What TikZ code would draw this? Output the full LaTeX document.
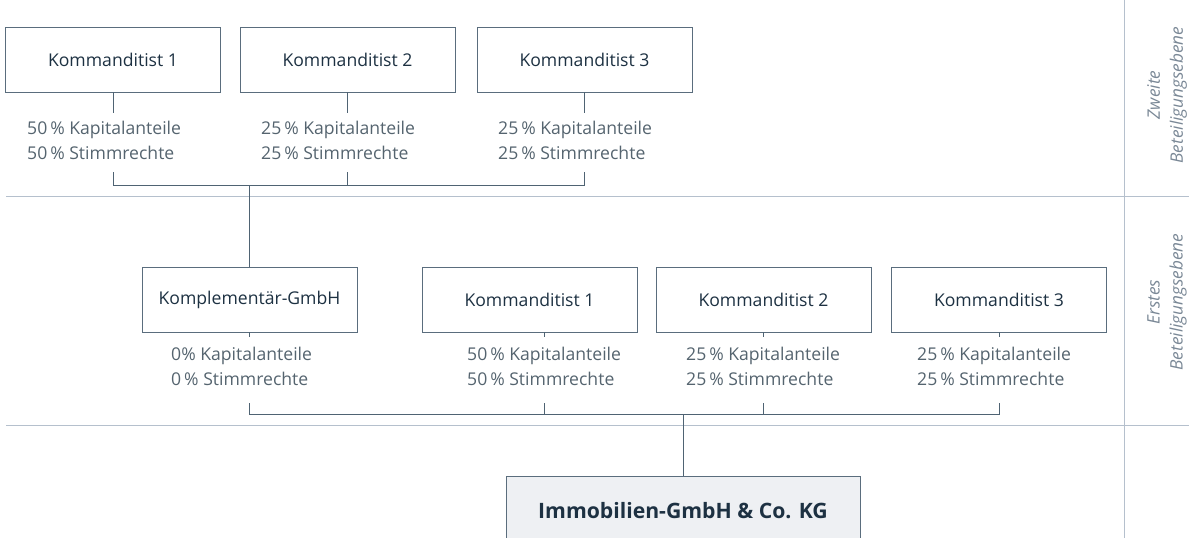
\documentclass[tikz,border=0pt]{standalone}
\usepackage{fontspec}
\setmainfont{Open Sans}
\definecolor{boxline}{HTML}{5A6D7D}
\definecolor{boxtext}{HTML}{1D3142}
\definecolor{pcttext}{HTML}{55646F}
\definecolor{sepline}{HTML}{B5C0CD}
\definecolor{conline}{HTML}{4F6373}
\definecolor{sidetext}{HTML}{7A8896}
\definecolor{mainfill}{HTML}{EEF0F3}
\tikzset{
  entity/.style={draw=boxline, line width=0.9pt, minimum width=215pt, minimum height=65pt,
    inner sep=0pt, text=boxtext, font=\fontsize{17.6}{20}\selectfont},
  mainbox/.style={draw=boxline, line width=0.9pt, fill=mainfill, minimum width=354pt, minimum height=70pt,
    inner sep=0pt, text=boxtext, font=\fontsize{21.2}{24}\selectfont\bfseries},
  share/.style={anchor=west, align=left, inner sep=0pt, text=pcttext, font=\fontsize{17.6}{25}\selectfont},
  conn/.style={draw=conline, line width=0.9pt},
  sep/.style={draw=sepline, line width=0.8pt},
  side/.style={rotate=90, align=center, inner sep=0pt, text=sidetext, font=\fontsize{17.2}{23}\selectfont\itshape}
}
\begin{document}
\begin{tikzpicture}[x=1pt,y=-1pt]
\useasboundingbox (0,0) rectangle (1189,538);
\begin{scope}
\clip (0,0) rectangle (1189,538);
% separators
\coordinate (s1a) at (6,196.5); \coordinate (s1b) at (1189,196.5);
\coordinate (s2a) at (6,425); \coordinate (s2b) at (1189,425);
\coordinate (vsa) at (1124.5,0); \coordinate (vsb) at (1124.5,538);
\draw[sep] (s1a) -- (s1b);
\draw[sep] (s2a) -- (s2b);
\draw[sep] (vsa) -- (vsb);

% side labels
\node[side] (lz) at (1167,95) {Zweite\\Beteiligungsebene};
\node[side] (le) at (1167,302) {Erstes\\Beteiligungsebene};

% top level
\node[entity] (t1) at (113,59.5) {Kommanditist 1};
\node[entity] (t2) at (347.5,59.5) {Kommanditist 2};
\node[entity] (t3) at (584.5,59.5) {Kommanditist 3};
\node[share] (ts1) at (27,140.5) {50\,\% Kapitalanteile\\50\,\% Stimmrechte};
\node[share] (ts2) at (261,140.5) {25\,\% Kapitalanteile\\25\,\% Stimmrechte};
\node[share] (ts3) at (498,140.5) {25\,\% Kapitalanteile\\25\,\% Stimmrechte};
\coordinate (ta1) at (113,113); \coordinate (ta2) at (347.5,113); \coordinate (ta3) at (584.5,113);
\draw[conn] (t1.south) -- (ta1);
\draw[conn] (t2.south) -- (ta2);
\draw[conn] (t3.south) -- (ta3);
\coordinate (tb1) at (113,172); \coordinate (tb2) at (347.5,172); \coordinate (tb3) at (584.5,172);
\coordinate (tc1) at (113,185); \coordinate (tc2) at (347.5,185); \coordinate (tc3) at (584.5,185);
\coordinate (tj) at (249.5,185);
\draw[conn] (tb1) -- (tc1) -- (tc3) -- (tb3);
\draw[conn] (tb2) -- (tc2);

% middle level
\node[entity] (m0) at (249.5,299.5) {Komplementär-GmbH};
\node[entity] (m1) at (529.5,299.5) {Kommanditist 1};
\node[entity] (m2) at (763.5,299.5) {Kommanditist 2};
\node[entity] (m3) at (999,299.5) {Kommanditist 3};
\draw[conn] (tj) -- (m0.north);
\node[share] (ms0) at (171,366.5) {0\% Kapitalanteile\\0\,\% Stimmrechte};
\node[share] (ms1) at (467,366.5) {50\,\% Kapitalanteile\\50\,\% Stimmrechte};
\node[share] (ms2) at (686,366.5) {25\,\% Kapitalanteile\\25\,\% Stimmrechte};
\node[share] (ms3) at (917,366.5) {25\,\% Kapitalanteile\\25\,\% Stimmrechte};
\coordinate (ma0) at (249.5,337); \coordinate (ma1) at (544,337);
\coordinate (ma2) at (763.5,337); \coordinate (ma3) at (999,337);
\draw[conn] (m0.south) -- (ma0);
\draw[conn] (m1.south -| ma1) -- (ma1);
\draw[conn] (m2.south) -- (ma2);
\draw[conn] (m3.south) -- (ma3);
\coordinate (mb0) at (249.5,403); \coordinate (mb1) at (544,403);
\coordinate (mb2) at (763.5,403); \coordinate (mb3) at (999,403);
\coordinate (mc0) at (249.5,414); \coordinate (mc1) at (544,414);
\coordinate (mc2) at (763.5,414); \coordinate (mc3) at (999,414);
\coordinate (mj) at (683,414);
\draw[conn] (mb0) -- (mc0) -- (mc3) -- (mb3);
\draw[conn] (mb1) -- (mc1);
\draw[conn] (mb2) -- (mc2);

% bottom
\node[mainbox] (kg) at (683,511) {Immobilien-GmbH \& Co. KG};
\draw[conn] (mj) -- (kg.north);
\end{scope}
\end{tikzpicture}
\end{document}
